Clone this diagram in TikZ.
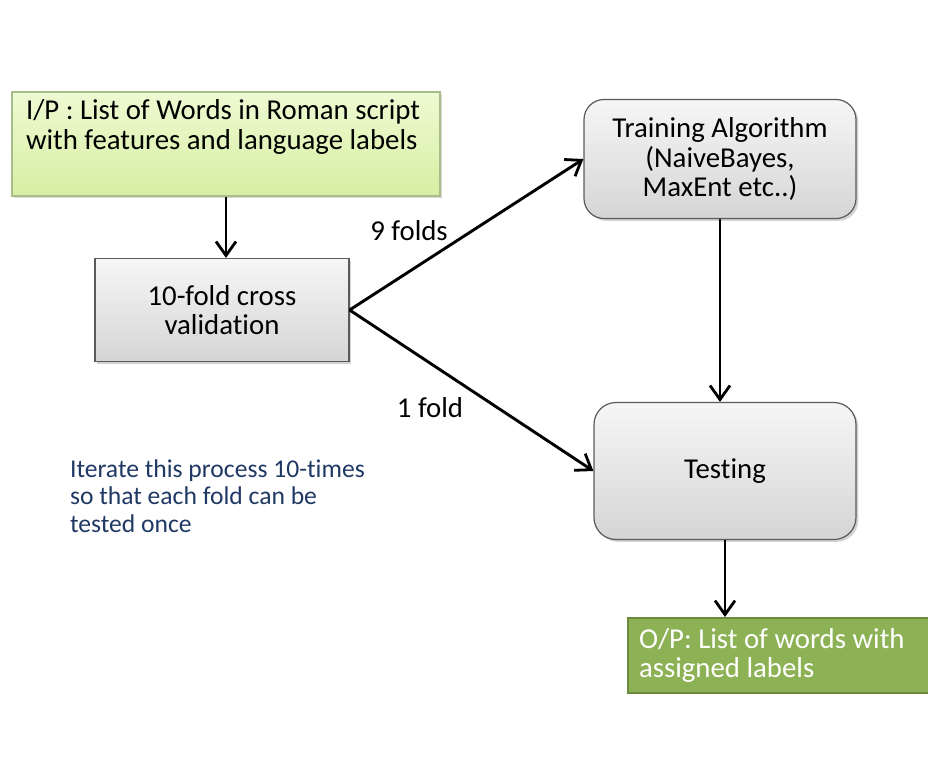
\documentclass[tikz,border=0pt]{standalone}
\usepackage{fontspec}
\setmainfont{Carlito}[Ligatures=NoCommon]
\usetikzlibrary{arrows.meta,shadows}

\definecolor{inTop}{HTML}{EEFAD2}
\definecolor{inBot}{HTML}{D6EFA3}
\definecolor{inLine}{HTML}{A9BC8C}
\definecolor{outFill}{HTML}{8DB255}
\definecolor{outLine}{HTML}{6B8A3C}
\definecolor{boxLine}{HTML}{5A5A5A}
\definecolor{noteBlue}{HTML}{1F3864}

\tikzset{
  box/.style={draw=boxLine, line width=0.6pt, top color=gray!7, bottom color=gray!33,
    align=center, font=\fontsize{14.4}{14.8}\selectfont,
    drop shadow={opacity=0.35, shadow xshift=1.2pt, shadow yshift=-1.2pt}},
  inbox/.style={draw=inLine, line width=0.6pt, top color=inTop, bottom color=inBot,
    align=flush left, font=\fontsize{14.4}{15}\selectfont,
    drop shadow={opacity=0.3, shadow xshift=1.2pt, shadow yshift=-1.2pt}},
  outbox/.style={draw=outLine, line width=1pt, fill=outFill, text=white,
    align=flush left, font=\fontsize{14.4}{14.8}\selectfont},
  flow/.style={-{Straight Barb[length=7pt,width=10pt,line width=1.4pt]}, line width=1.45pt},
  lbl/.style={font=\fontsize{14.4}{15}\selectfont}
}

\begin{document}
\begin{tikzpicture}[x=0.5pt, y=-0.5pt]
  \clip (0,0) rectangle (928,778);
  \useasboundingbox (0,0) rectangle (928,778);

  % Input and cross validation
  \node[inbox, minimum width=214pt, minimum height=52pt, text width=200pt] (inp) at (226,144)
    {I/P : List of Words in Roman script\\ with features and language labels\\ \strut};
  \node[box, minimum width=127pt, minimum height=51.5pt] (cv) at (222,310)
    {10-fold cross\\ validation};

  % Training and testing
  \node[box, rounded corners=10pt, minimum width=136pt, minimum height=59.5pt] (train) at (720,159)
    {Training Algorithm\\ (NaiveBayes,\\ MaxEnt etc..)};
  \node[box, rounded corners=11pt, minimum width=131pt, minimum height=68.5pt] (test) at (725,471)
    {Testing};

  % Output
  \node[outbox, minimum width=157pt, minimum height=37.5pt, text width=146pt] (outp) at (785,655.5)
    {O/P: List of words with\\ assigned labels};

  % Note
  \node[align=left, anchor=west, text=noteBlue, font=\fontsize{12.8}{13.75}\selectfont] (note) at (63,496)
    {Iterate this process 10-times\\ so that each fold can be\\ tested once};

  % Fold labels
  \node[lbl] (nine) at (409,231) {9 folds};
  \node[lbl] (one) at (430,408) {1 fold};

  % Arrows
  \draw[flow] (inp.south) -- (inp.south |- cv.north);
  \draw[flow] (cv.east) -- (train.west);
  \draw[flow] (cv.east) -- (test.west);
  \draw[flow] (train.south) -- (train.south |- test.north);
  \draw[flow] (test.south) -- (test.south |- outp.north);
\end{tikzpicture}
\end{document}
